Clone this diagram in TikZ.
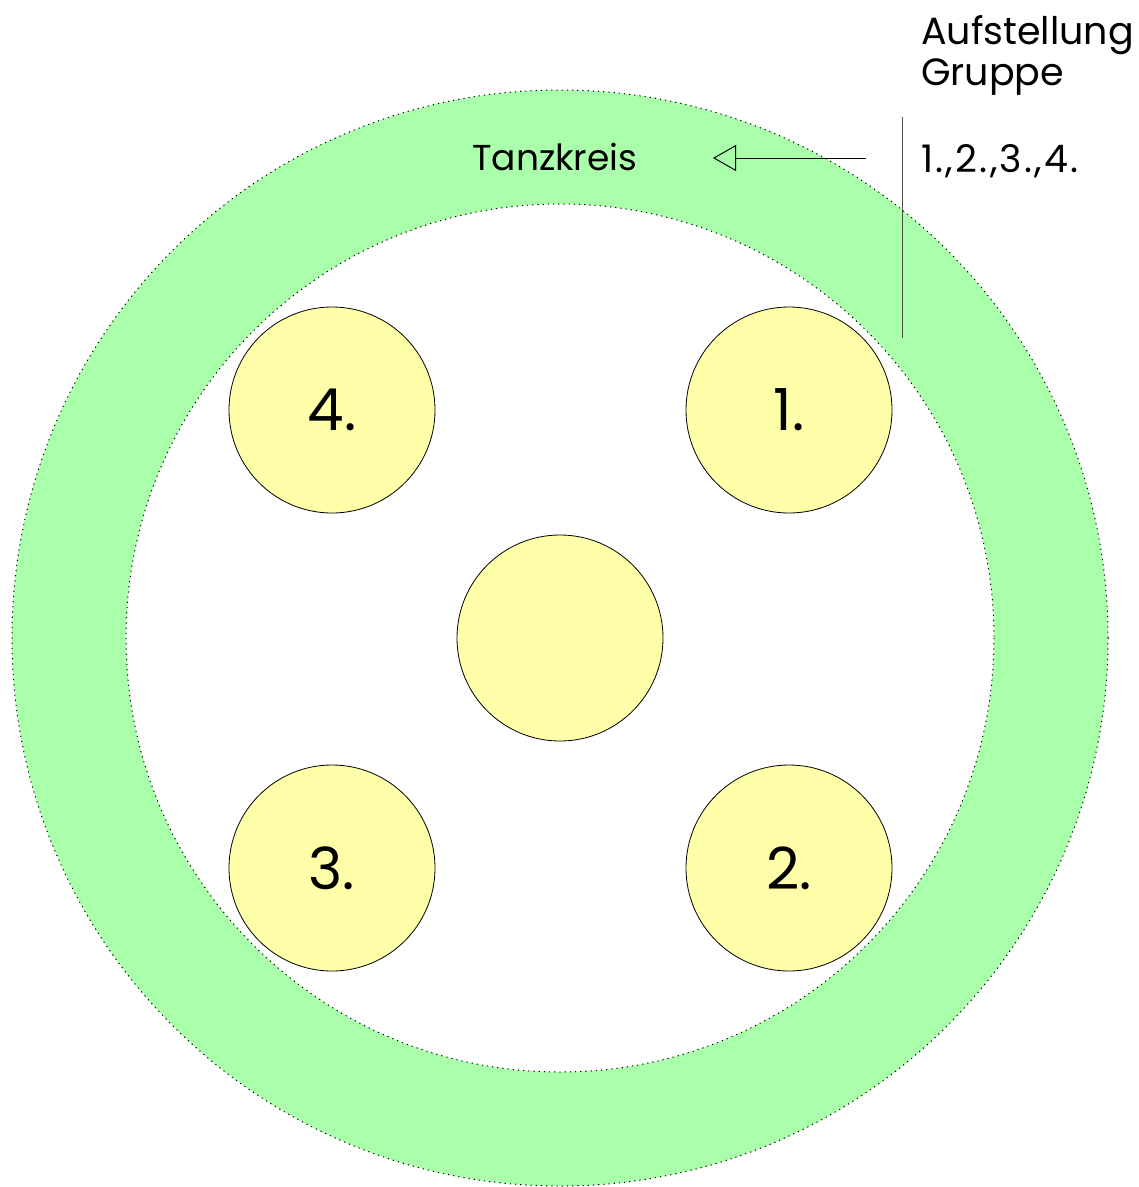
\documentclass[tikz,border=0pt]{standalone}
\usepackage{fontspec}
\setmainfont{Poppins}
\usetikzlibrary{arrows.meta}
\definecolor{ringgreen}{HTML}{AAFFAA}
\definecolor{spotyellow}{HTML}{FFFFAA}
\tikzset{
  spot/.style={circle, draw=black, line width=0.8pt, fill=spotyellow, minimum size=206pt, inner sep=0pt, font=\fontsize{58}{66}\selectfont},
  ringedge/.style={draw=black, line width=1pt, dash pattern=on 1.2pt off 4pt},
  lbl/.style={inner sep=0pt, font=\fontsize{36}{42}\selectfont},
  sidelbl/.style={inner sep=0pt, font=\fontsize{38}{41}\selectfont}
}
\begin{document}
\begin{tikzpicture}[x=1pt,y=-1pt]
\useasboundingbox (0,0) rectangle (1139,1187);
% ring
\fill[ringgreen, even odd rule] (560,638) circle[radius=548] (560,638) circle[radius=434];
\draw[ringedge] (560,638) circle[radius=548];
\draw[ringedge] (560,638) circle[radius=434];
% spots
\node[spot] (s4) at (332,410) {4.};
\node[spot] (s1) at (789,410) {1.};
\node[spot] (s0) at (560,638) {};
\node[spot] (s3) at (332,868) {3.};
\node[spot] (s2) at (789,868) {2.};
% labels
\node[lbl, anchor=west] (tanz) at (472,157) {Tanzkreis};
\node[sidelbl, anchor=north west, align=left] (auf) at (921,15) {Aufstellung\\Gruppe};
\node[sidelbl, anchor=west] (grp) at (921,161) {\addfontfeature{LetterSpace=6}1.,2.,3.,4.};
% connectors
\coordinate (arrstart) at (866,158);
\coordinate (arrend) at (713,158);
\draw[line width=1pt, -{Triangle[open, length=23pt, width=26pt]}] (arrstart) -- (arrend);
\coordinate (vtop) at (902,117);
\coordinate (vbot) at (902,338);
\draw[line width=1pt, black!70] (vtop) -- (vbot);
\end{tikzpicture}
\end{document}
